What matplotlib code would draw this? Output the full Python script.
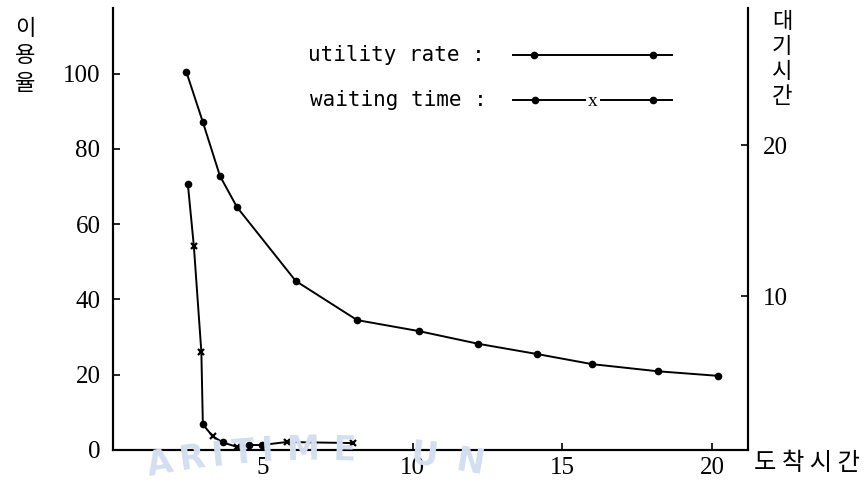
import numpy as np
import matplotlib
matplotlib.use("Agg")
import matplotlib.pyplot as plt
from matplotlib.lines import Line2D

# arrival interval (x) and utility rate in percent (left axis)
util_x = [2.45, 3.0, 3.57, 4.14, 6.1, 8.15, 10.2, 12.2, 14.15, 16.0, 18.2, 20.2]
util_y = [100.4, 87.1, 72.8, 64.5, 44.9, 34.5, 31.6, 28.2, 25.5, 22.8, 20.9, 19.7]

# arrival interval and waiting time (right axis); marker style per point
wait_x = [2.5, 2.7, 2.95, 3.0, 3.33, 3.67, 4.15, 4.55, 4.97, 5.8, 8.0]
wait_y = [17.4, 13.3, 6.3, 1.5, 0.7, 0.3, 0.0, 0.13, 0.13, 0.33, 0.26]
wait_mk = ['o', 'x', 'x', 'o', 'x', 'o', 'x', 'o', 'o', 'x', 'x']

x_ticks = [5, 10, 15, 20]
left_ticks = [0, 20, 40, 60, 80, 100]
right_ticks = [10, 20]

W, H = 867, 483
fig = plt.figure(figsize=(W / 100, H / 100), dpi=100)
ax = fig.add_axes([113 / W, 1 - 450 / H, (748 - 113) / W, (450 - 8) / H])
ax2 = ax.twinx()

serif = 'Liberation Serif'
kor = ['Noto Sans CJK KR', 'DejaVu Sans']

ax.plot(util_x, util_y, color='black', lw=1.4, marker='o', ms=4.5, zorder=3)

ax2.plot(wait_x, wait_y, color='black', lw=1.4, zorder=3)
wx = np.array(wait_x)
wy = np.array(wait_y)
mk = np.array(wait_mk)
ax2.plot(wx[mk == 'o'], wy[mk == 'o'], ls='none', marker='o', ms=4.5, color='black', zorder=4)
ax2.plot(wx[mk == 'x'], wy[mk == 'x'], ls='none', marker='x', ms=5, mew=1.6, color='black', zorder=4)

ax.set_xlim(0, 21.2)
ax.set_ylim(0, 117.4)
ax2.set_ylim(-0.2, 29.1)

ax.set_xticks(x_ticks)
ax.set_yticks(left_ticks)
ax2.set_yticks(right_ticks)

for a in (ax, ax2):
    a.spines['top'].set_visible(False)
    for s in a.spines.values():
        s.set_linewidth(1.5)

ax.tick_params(axis='both', direction='in', length=5, width=1.2, labelsize=18)
ax.tick_params(axis='y', pad=9)
ax.tick_params(axis='x', pad=5)
ax2.tick_params(axis='y', direction='in', length=5, width=1.2, labelsize=18, pad=11)
for lab in ax.get_xticklabels() + ax.get_yticklabels() + ax2.get_yticklabels():
    lab.set_fontfamily(serif)

# axis titles, stacked Korean characters
fig.text(25 / W, 1 - 56 / H, '이\n용\n율', family=kor, fontsize=16,
         ha='center', va='center', linespacing=1.25)
fig.text(782 / W, 1 - 59 / H, '대\n기\n시\n간', family=kor, fontsize=16,
         ha='center', va='center', linespacing=1.12)
fig.text(754 / W, 1 - 463 / H, '도 착 시 간', family=kor, fontsize=17.5,
         ha='left', va='center')

# legend drawn as text plus sample strokes
mono = 'DejaVu Sans Mono'
lx0, lx1 = 513 / W, 672 / W
fig.text(308 / W, 1 - 55 / H, 'utility rate :', fontsize=15, family=mono,
         ha='left', va='center')
fig.text(310 / W, 1 - 100 / H, 'waiting time :', fontsize=15, family=mono,
         ha='left', va='center')
y1 = 1 - 55 / H
fig.add_artist(Line2D([lx0, lx1], [y1, y1], color='black', lw=1.4))
fig.add_artist(Line2D([534 / W, 653 / W], [y1, y1], ls='none', marker='o', ms=4.5, color='black'))
y2 = 1 - 100 / H
fig.add_artist(Line2D([lx0, 585 / W], [y2, y2], color='black', lw=1.4))
fig.add_artist(Line2D([601 / W, lx1], [y2, y2], color='black', lw=1.4))
fig.add_artist(Line2D([535 / W, 653 / W], [y2, y2], ls='none', marker='o', ms=4.5, color='black'))
fig.text(593 / W, 1 - 101 / H, 'x', fontsize=14, family=serif, ha='center', va='center')

# faint arched library stamp along the bottom edge
cx, cy, R = 320, 1350, 900
for ch, px in zip('ARITIME UN', [160, 192, 218, 243, 268, 303, 345, 380, 425, 470]):
    if ch == ' ':
        continue
    dx = px - cx
    th = np.arcsin(dx / R)
    py = cy - R * np.cos(th)
    fig.text(px / W, 1 - py / H, ch, fontsize=24, fontweight='bold', family='DejaVu Sans',
             color='#d3dff0', ha='center', va='center', rotation=-np.degrees(th), zorder=0)

fig.savefig('out.png', dpi=100)
